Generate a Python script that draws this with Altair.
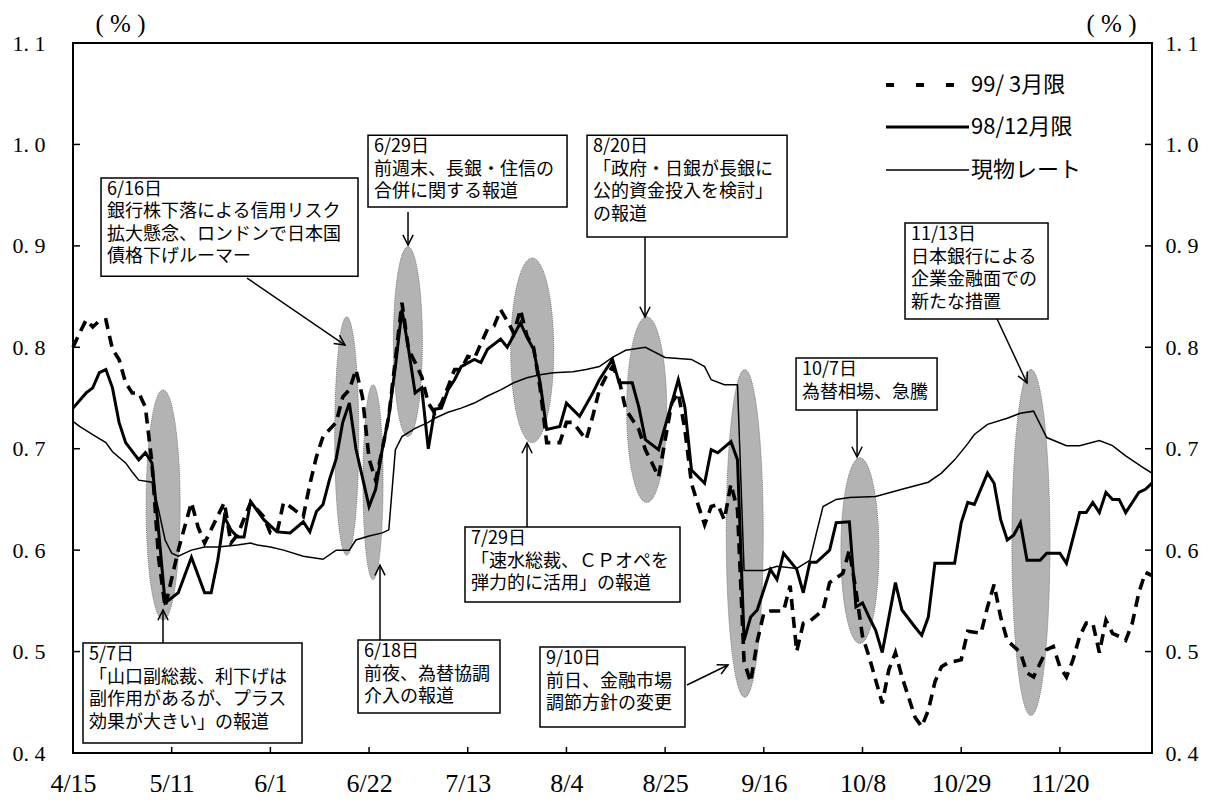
import json
import math
import altair as alt
import pandas as pd

# ---------------- data (x = business days counted from 4/15) ----------------
tick_days = [0, 15, 30, 45, 60, 75, 90, 105, 120, 135, 150]
tick_labels = ["4/15", "5/11", "6/1", "6/22", "7/13", "8/4", "8/25", "9/16", "10/8", "10/29", "11/20"]
y_ticks = [0.4, 0.5, 0.6, 0.7, 0.8, 0.9, 1.0, 1.1]

series_names = ["99/ 3月限", "98/12月限", "現物レート"]

mar_days = [0, 1, 2, 3, 4, 5, 6, 7, 8, 9, 10, 11, 12, 13, 14, 16, 18, 19, 20, 23, 24, 25, 27, 29, 30, 31, 32, 33, 35,
            36, 37, 38, 40, 41, 42, 43, 44, 45, 46, 47, 48, 49, 50, 51, 52, 53, 54, 55, 56, 57, 58, 59, 60, 61, 63, 64,
            65, 66, 67, 68, 69, 70, 71, 72, 74, 75, 76, 78, 79, 80, 81, 82, 83, 84, 86, 87, 88, 89, 91, 92, 93, 94, 95,
            96, 97, 98, 99, 100, 101, 102, 103, 104, 105, 106, 107, 108, 109, 110, 111, 112, 114, 115, 117, 118, 119,
            120, 121, 122, 123, 124, 125, 126, 127, 128, 129, 130, 131, 132, 133, 135, 136, 138, 139, 140, 141, 142,
            144, 145, 146, 148, 149, 150, 151, 152, 153, 154, 155, 156, 157, 158, 159, 160, 161, 162, 163, 164]
mar_vals = [0.800, 0.814, 0.827, 0.820, 0.826, 0.827, 0.798, 0.788, 0.765, 0.755, 0.755, 0.741, 0.686, 0.593, 0.544,
            0.600, 0.647, 0.623, 0.607, 0.647, 0.607, 0.615, 0.647, 0.633, 0.617, 0.617, 0.647, 0.643, 0.633,
            0.665, 0.692, 0.712, 0.726, 0.751, 0.758, 0.778, 0.751, 0.690, 0.669, 0.699, 0.732, 0.788, 0.844, 0.798,
            0.785, 0.771, 0.745, 0.735, 0.745, 0.761, 0.778, 0.778, 0.791, 0.789, 0.818, 0.821,
            0.837, 0.826, 0.814, 0.837, 0.811, 0.800, 0.760, 0.706, 0.706, 0.726, 0.726, 0.709, 0.732, 0.758, 0.771,
            0.781, 0.768, 0.739, 0.719, 0.699, 0.686, 0.672, 0.745, 0.755, 0.719, 0.666, 0.645,
            0.625, 0.643, 0.645, 0.630, 0.665, 0.640, 0.490, 0.470, 0.510, 0.538, 0.540, 0.540, 0.540, 0.565, 0.500,
            0.528, 0.530, 0.541, 0.568, 0.577, 0.600, 0.560,
            0.515, 0.495, 0.472, 0.449, 0.482, 0.499, 0.475, 0.455, 0.435, 0.426, 0.442, 0.470, 0.485, 0.489, 0.492,
            0.520, 0.518, 0.544, 0.566, 0.534, 0.511,
            0.499, 0.479, 0.475, 0.502, 0.505, 0.485, 0.475, 0.492, 0.515, 0.528, 0.528, 0.499, 0.531, 0.518, 0.515,
            0.511, 0.528, 0.558, 0.578, 0.575]

dec_days = [0, 2, 3, 4, 5, 6, 7, 8, 10, 11, 12, 13, 14, 16, 18, 20, 21, 22, 23, 24, 25, 26, 27, 29, 31, 33, 35, 36,
            37, 38, 39, 40, 41, 42, 43, 45, 46, 47, 48, 49, 50, 51, 52, 53, 54, 55, 56, 57, 58, 59, 61, 62, 63, 65, 66,
            68, 69, 70, 71, 72, 74, 75, 77, 79, 80, 82, 83, 85, 86, 87, 89, 92, 93, 94, 96, 97, 98, 100, 101, 102, 103,
            104, 106, 107, 108, 110, 111, 112, 113, 115, 116, 118, 119, 120, 121, 122, 123, 125, 126, 128, 129, 130,
            131, 134, 135, 136, 137, 139, 140, 141, 142, 143, 144, 145, 147, 148, 150, 151, 153, 154, 155, 156, 157,
            158, 159, 160, 162, 163, 164]
dec_vals = [0.740, 0.755, 0.760, 0.775, 0.778, 0.760, 0.726, 0.706, 0.689, 0.696, 0.686, 0.620, 0.548, 0.558, 0.593,
            0.558, 0.558, 0.590, 0.633, 0.620, 0.613, 0.613, 0.648, 0.630, 0.618, 0.617, 0.628, 0.618,
            0.638, 0.645, 0.670, 0.690, 0.726, 0.745, 0.700, 0.643, 0.660, 0.699, 0.732, 0.781, 0.837, 0.798, 0.755,
            0.760, 0.700, 0.739, 0.740, 0.758, 0.768, 0.781, 0.788, 0.785, 0.798, 0.808, 0.800,
            0.824, 0.810, 0.798, 0.765, 0.719, 0.722, 0.745, 0.732, 0.755, 0.768, 0.788, 0.765, 0.765, 0.741, 0.709,
            0.699, 0.768, 0.741, 0.679, 0.666, 0.699, 0.696, 0.707, 0.689, 0.511, 0.534,
            0.541, 0.581, 0.571, 0.597, 0.581, 0.558, 0.588, 0.588, 0.600, 0.627, 0.628, 0.544, 0.548, 0.534, 0.521,
            0.499, 0.568, 0.541, 0.524, 0.516, 0.534,
            0.587, 0.587, 0.627, 0.647, 0.645, 0.676, 0.666, 0.630, 0.610, 0.615, 0.627, 0.590, 0.590, 0.597, 0.597,
            0.587, 0.637, 0.637, 0.647, 0.637, 0.657,
            0.650, 0.650, 0.637, 0.657, 0.660, 0.666]

spot_days = [0, 1, 3, 4, 5, 6, 8, 9, 10, 12, 13, 14, 15, 16, 18, 20, 22, 25, 27, 28, 30, 32, 35, 38, 40, 42, 43, 45,
             47, 48, 49, 50, 52, 54, 55, 57, 59, 61, 63, 65, 67, 69, 71, 73, 76, 78, 80, 82, 84, 87, 90, 94, 96, 97,
             99, 101, 102, 105, 107, 110, 112, 113, 114, 116, 118, 122, 126, 130, 132, 134, 136, 137, 139, 142, 144,
             146, 148, 151, 153, 156, 158, 160, 163, 164]
spot_vals = [0.727, 0.722, 0.714, 0.710, 0.706, 0.697, 0.686, 0.677, 0.669, 0.667, 0.640, 0.610, 0.597, 0.594, 0.600,
             0.603, 0.603, 0.605, 0.607, 0.605, 0.603, 0.600, 0.594, 0.591, 0.600, 0.600, 0.610, 0.614,
             0.617, 0.620, 0.699, 0.712, 0.720, 0.726, 0.730, 0.736, 0.740, 0.745, 0.752, 0.758, 0.765, 0.770, 0.773,
             0.775, 0.776, 0.778, 0.781, 0.790, 0.797, 0.800, 0.790, 0.788, 0.781, 0.768,
             0.763, 0.763, 0.580, 0.580, 0.584, 0.582, 0.590, 0.617, 0.643, 0.650, 0.652, 0.653, 0.660, 0.667, 0.676,
             0.689, 0.705, 0.714, 0.724, 0.730, 0.735,
             0.737, 0.711, 0.703, 0.703, 0.708, 0.703, 0.693, 0.680, 0.676]

# highlighted (shaded) episodes: centre day, low and high value
hl_day = [13.7, 41.6, 45.6, 50.9, 69.8, 87.2, 102.1, 119.6, 145.6]
hl_lo = [0.531, 0.595, 0.571, 0.712, 0.706, 0.647, 0.455, 0.508, 0.437]
hl_hi = [0.758, 0.830, 0.763, 0.899, 0.888, 0.830, 0.778, 0.691, 0.778]

# annotation boxes (data units) and texts
ann_text = [
    "6/16日\n銀行株下落による信用リスク\n拡大懸念、ロンドンで日本国\n債格下げルーマー",
    "6/29日\n前週末、長銀・住信の\n合併に関する報道",
    "8/20日\n「政府・日銀が長銀に\n公的資金投入を検討」\nの報道",
    "11/13日\n日本銀行による\n企業金融面での\n新たな措置",
    "10/7日\n為替相場、急騰",
    "7/29日\n「速水総裁、ＣＰオペを\n弾力的に活用」の報道",
    "5/7日\n「山口副総裁、利下げは\n副作用があるが、プラス\n効果が大きい」の報道",
    "6/18日\n前夜、為替協調\n介入の報道",
    "9/10日\n前日、金融市場\n調節方針の変更",
]
ann_x1 = [4.26, 44.84, 78.13, 126.46, 109.90, 59.58, 1.52, 43.32, 70.98]
ann_x2 = [43.32, 75.09, 108.53, 148.20, 131.33, 92.26, 34.81, 64.90, 93.02]
ann_y1 = [0.967, 1.009, 1.009, 0.9225, 0.7894, 0.6228, 0.5084, 0.5114, 0.5045]
ann_y2 = [0.870, 0.9383, 0.9087, 0.8279, 0.7382, 0.5489, 0.4099, 0.4394, 0.4256]
arr_x1 = [26.45, 50.92, 86.94, 140.45, 119.17, 69.01, 13.68, 46.66, 93.33]
arr_y1 = [0.8683, 0.9334, 0.9087, 0.8279, 0.7382, 0.6228, 0.5084, 0.5114, 0.4670]
arr_x2 = [41.34, 50.92, 86.94, 145.00, 119.17, 69.01, 13.68, 46.66, 99.56]
arr_y2 = [0.8022, 0.9008, 0.8299, 0.7648, 0.6918, 0.7056, 0.5410, 0.5853, 0.4868]

# ---------------- layout / style ----------------
W, H = 1079, 710
XD = [0, 164]
YD = [0.4, 1.1]
PX_DAY = W / (XD[1] - XD[0])
PX_UNIT = H / (YD[1] - YD[0])
hl_width_px = [34, 24, 20, 29, 43, 40, 37, 38, 38]
JP = "Noto Sans CJK JP"
NUM = "Liberation Serif"

XS = alt.Scale(domain=XD, nice=False, zero=False)
YS = alt.Scale(domain=YD, nice=False, zero=False)

XAXIS = alt.Axis(values=tick_days,
                 labelExpr=f"{json.dumps(tick_labels)}[indexof({json.dumps(tick_days)}, datum.value)]",
                 ticks=False, tickSize=0, domain=False, grid=False, labelFont=NUM, labelFontSize=26,
                 labelPadding=17, labelColor="black", title=None, labelFlush=False, labelOverlap=False)


def yaxis(orient, pad, tx):
    return alt.Axis(orient=orient, values=y_ticks,
                    labelExpr="replace(format(datum.value, '.1f'), '.', '. ')",
                    ticks=False, tickSize=0, domain=False, grid=False, labelFont=NUM, labelFontSize=22,
                    labelPadding=pad, labelColor="black", labelOverlap=False,
                    title="( % )", titleAngle=0, titleX=tx, titleY=-20, titleAlign="center",
                    titleBaseline="middle", titleFont=NUM, titleFontSize=25, titleFontWeight="normal",
                    titleColor="black")


def X(f):
    return alt.X(f"{f}:Q", scale=XS, axis=None)


def Y(f):
    return alt.Y(f"{f}:Q", scale=YS, axis=None)


# ---------------- frames ----------------
mar_df = pd.DataFrame({"day": mar_days, "value": mar_vals, "series": series_names[0]})
dec_df = pd.DataFrame({"day": dec_days, "value": dec_vals, "series": series_names[1]})
spot_df = pd.DataFrame({"day": spot_days, "value": spot_vals, "series": series_names[2]})

k = 0.5523
hl_rows = []
for d, lo, hi, w in zip(hl_day, hl_lo, hl_hi, hl_width_px):
    half_h = (hi - lo) / 2 * PX_UNIT
    rx = (w / 2) / half_h
    p = (f"M0,-1 C{k*rx:.4f},-1 {rx:.4f},-{k} {rx:.4f},0 C{rx:.4f},{k} {k*rx:.4f},1 0,1 "
         f"C-{k*rx:.4f},1 -{rx:.4f},{k} -{rx:.4f},0 C-{rx:.4f},-{k} -{k*rx:.4f},-1 0,-1 Z")
    hl_rows.append({"day": d, "mid": (lo + hi) / 2, "path": p, "sz": 4 * half_h * half_h})
hl_df = pd.DataFrame(hl_rows)

ann_df = pd.DataFrame({"t": ann_text, "x1": ann_x1, "x2": ann_x2, "y1": ann_y1, "y2": ann_y2})
arr_rows = []
for a, b, c, d in zip(arr_x1, arr_y1, arr_x2, arr_y2):
    dxp = (c - a) * PX_DAY
    dyp = -(d - b) * PX_UNIT
    ang = math.degrees(math.atan2(-dxp, dyp)) % 360
    arr_rows.append({"ax1": a, "ay1": b, "ax2": c, "ay2": d, "ang": ang})
arr_df = pd.DataFrame(arr_rows)

ytick_df = pd.DataFrame({"v": y_ticks[1:-1]})
xtick_df = pd.DataFrame({"d": tick_days[1:]})

# ---------------- layers ----------------
ellipses = alt.Chart(hl_df).mark_point(filled=True, fill="#ababab", fillOpacity=0.9, stroke="#7a7a7a",
                                       strokeWidth=1, strokeDash=[1, 1]).encode(
    x=X("day"), y=Y("mid"),
    shape=alt.Shape("path:N", scale=None), size=alt.Size("sz:Q", scale=None))

spot_line = alt.Chart(spot_df).mark_line(color="black", strokeWidth=1.5).encode(
    x=alt.X("day:Q", scale=XS, axis=XAXIS),
    y=alt.Y("value:Q", scale=YS, axis=yaxis("left", 28, 47)))

dec_line = alt.Chart(dec_df).mark_line(color="black", strokeWidth=3).encode(
    x=X("day"),
    y=alt.Y("value:Q", scale=YS, axis=yaxis("right", 13, -41)))

mar_line = alt.Chart(mar_df).mark_line(color="black", strokeWidth=3.6, strokeDash=[11, 7]).encode(
    x=X("day"), y=Y("value"))

ytick_l = alt.Chart(ytick_df).mark_rule(color="black", strokeWidth=1.5).encode(
    y=Y("v"), x=alt.value(0), x2=alt.value(7))
ytick_r = alt.Chart(ytick_df).mark_rule(color="black", strokeWidth=1.5).encode(
    y=Y("v"), x=alt.value(W - 7), x2=alt.value(W))
xtick = alt.Chart(xtick_df).mark_rule(color="black", strokeWidth=1.5).encode(
    x=X("d"), y=alt.value(H), y2=alt.value(H - 6))

arrows = alt.Chart(arr_df).mark_rule(color="black", strokeWidth=1.5).encode(
    x=X("ax1"), y=Y("ay1"), x2="ax2:Q", y2="ay2:Q")
heads = alt.Chart(arr_df).mark_point(filled=False, color="black", strokeWidth=1.5, opacity=1,
                                     shape="M-0.5,-1 L0,0 L0.5,-1", size=420).encode(
    x=X("ax2"), y=Y("ay2"), angle=alt.Angle("ang:Q", scale=None))

boxes = alt.Chart(ann_df).mark_rect(fill="white", stroke="black", strokeWidth=1.5).encode(
    x=X("x1"), x2="x2:Q", y=Y("y1"), y2="y2:Q")
texts = alt.Chart(ann_df).mark_text(align="left", baseline="top", lineBreak="\n", font=JP, fontSize=18,
                                    lineHeight=22.5, dx=6, dy=3, color="black").encode(
    x=X("x1"), y=Y("y1"), text="t:N")

leg_mar = alt.Chart(mar_df.head(1)).mark_rule(color="black", strokeWidth=4, strokeDash=[8, 22]).encode(
    x=alt.value(813), x2=alt.value(883), y=alt.value(42))
leg_dec = alt.Chart(dec_df.head(1)).mark_rule(color="black", strokeWidth=3).encode(
    x=alt.value(813), x2=alt.value(896), y=alt.value(84))
leg_spot = alt.Chart(spot_df.head(1)).mark_rule(color="black", strokeWidth=1.5).encode(
    x=alt.value(813), x2=alt.value(896), y=alt.value(127))
leg_txt = [
    alt.Chart(df.head(1)).mark_text(align="left", baseline="middle", font=JP, fontSize=22, color="black").encode(
        x=alt.value(898), y=alt.value(yy), text="series:N")
    for df, yy in [(mar_df, 42), (dec_df, 84), (spot_df, 127)]
]

chart = alt.layer(
    ellipses, spot_line, dec_line, mar_line, ytick_l, ytick_r, xtick,
    arrows, boxes, texts, heads, leg_mar, leg_dec, leg_spot, *leg_txt
).resolve_scale(y="shared", x="shared").resolve_axis(y="independent", x="independent").properties(
    width=W, height=H,
    autosize=alt.AutoSizeParams(type="none"),
    padding={"left": 65, "top": 35, "right": 54, "bottom": 47},
    background="white",
).configure_view(stroke="black", strokeWidth=2)

chart.save("out.html", embed_options={"renderer": "svg", "actions": False})
